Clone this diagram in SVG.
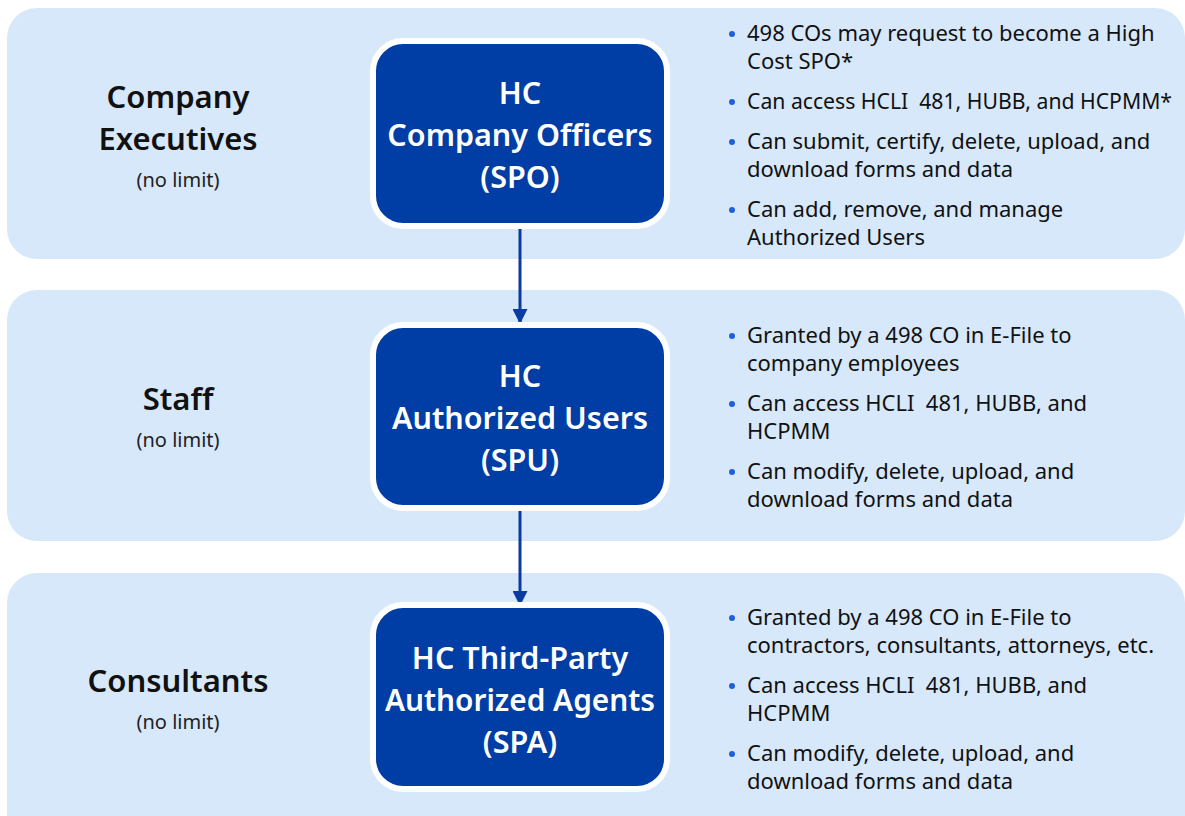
<svg xmlns="http://www.w3.org/2000/svg" width="1185" height="816" viewBox="0 0 1185 816">
<style>
.band{fill:#d7e8fb}
.node{fill:#003da5;stroke:#ffffff;stroke-width:6}
.nt{font-family:"Noto Sans","Open Sans",sans-serif;font-weight:600;font-size:30.5px;fill:#ffffff;text-anchor:middle}
.lt{font-family:"Noto Sans","Open Sans",sans-serif;font-weight:600;font-size:31px;fill:#111111;text-anchor:middle}
.sub{font-family:"Noto Sans","Open Sans",sans-serif;font-size:20px;fill:#222222;text-anchor:middle}
.bt{font-family:"Noto Sans","Open Sans",sans-serif;font-size:22px;fill:#111111}
.dot{fill:#1f5fd8}
.conn{stroke:#0a3ba0;stroke-width:3;fill:none}
</style>
<defs>
<marker id="ah" viewBox="0 0 10 10" refX="10" refY="5" markerWidth="5" markerHeight="5" orient="auto" markerUnits="strokeWidth">
<path d="M0,0 L10,5 L0,10 z" fill="#0a3ba0"/>
</marker>
</defs>
<rect width="1185" height="816" fill="#ffffff"/>
<g id="bands">
<rect class="band" x="7" y="8" width="1178" height="251" rx="30"/>
<rect class="band" x="7" y="290" width="1178" height="251" rx="30"/>
<rect class="band" x="7" y="573" width="1178" height="273" rx="30"/>
</g>
<g id="connectors">
<line class="conn" x1="520" y1="226" x2="520" y2="324" marker-end="url(#ah)"/>
<line class="conn" x1="520" y1="508" x2="520" y2="606" marker-end="url(#ah)"/>
</g>
<g id="row1-label">
<text class="lt" x="178" y="108">Company</text>
<text class="lt" x="178" y="150">Executives</text>
<text class="sub" x="178" y="187">(no limit)</text>
</g>
<g id="node-spo">
<rect class="node" x="373" y="41" width="294" height="185" rx="30"/>
<text class="nt" x="520" y="104">HC</text>
<text class="nt" x="520" y="146">Company Officers</text>
<text class="nt" x="520" y="188">(SPO)</text>
</g>
<g id="row1-bullets">
<circle class="dot" cx="732" cy="34" r="3"/>
<text class="bt" x="747" y="41">498 COs may request to become a High</text>
<text class="bt" x="747" y="69">Cost SPO*</text>
<circle class="dot" cx="732" cy="102" r="3"/>
<text class="bt" x="747" y="109" style="font-size:21.2px">Can access HCLI&#160; 481, HUBB, and HCPMM*</text>
<circle class="dot" cx="732" cy="142" r="3"/>
<text class="bt" x="747" y="149">Can submit, certify, delete, upload, and</text>
<text class="bt" x="747" y="177">download forms and data</text>
<circle class="dot" cx="732" cy="210" r="3"/>
<text class="bt" x="747" y="217">Can add, remove, and manage</text>
<text class="bt" x="747" y="245">Authorized Users</text>
</g>
<g id="row2-label">
<text class="lt" x="178" y="410">Staff</text>
<text class="sub" x="178" y="447">(no limit)</text>
</g>
<g id="node-spu">
<rect class="node" x="373" y="325" width="294" height="183" rx="30"/>
<text class="nt" x="520" y="387">HC</text>
<text class="nt" x="520" y="429">Authorized Users</text>
<text class="nt" x="520" y="471">(SPU)</text>
</g>
<g id="row2-bullets">
<circle class="dot" cx="732" cy="336" r="3"/>
<text class="bt" x="747" y="343">Granted by a 498 CO in E-File to</text>
<text class="bt" x="747" y="371">company employees</text>
<circle class="dot" cx="732" cy="404" r="3"/>
<text class="bt" x="747" y="411">Can access HCLI&#160; 481, HUBB, and</text>
<text class="bt" x="747" y="439">HCPMM</text>
<circle class="dot" cx="732" cy="472" r="3"/>
<text class="bt" x="747" y="479">Can modify, delete, upload, and</text>
<text class="bt" x="747" y="507">download forms and data</text>
</g>
<g id="row3-label">
<text class="lt" x="178" y="692">Consultants</text>
<text class="sub" x="178" y="729">(no limit)</text>
</g>
<g id="node-spa">
<rect class="node" x="373" y="605" width="294" height="184" rx="30"/>
<text class="nt" x="520" y="669">HC Third-Party</text>
<text class="nt" x="520" y="711" style="font-size:29.8px">Authorized Agents</text>
<text class="nt" x="520" y="753">(SPA)</text>
</g>
<g id="row3-bullets">
<circle class="dot" cx="732" cy="618" r="3"/>
<text class="bt" x="747" y="625">Granted by a 498 CO in E-File to</text>
<text class="bt" x="747" y="653">contractors, consultants, attorneys, etc.</text>
<circle class="dot" cx="732" cy="686" r="3"/>
<text class="bt" x="747" y="693">Can access HCLI&#160; 481, HUBB, and</text>
<text class="bt" x="747" y="721">HCPMM</text>
<circle class="dot" cx="732" cy="754" r="3"/>
<text class="bt" x="747" y="761">Can modify, delete, upload, and</text>
<text class="bt" x="747" y="789">download forms and data</text>
</g>
</svg>
